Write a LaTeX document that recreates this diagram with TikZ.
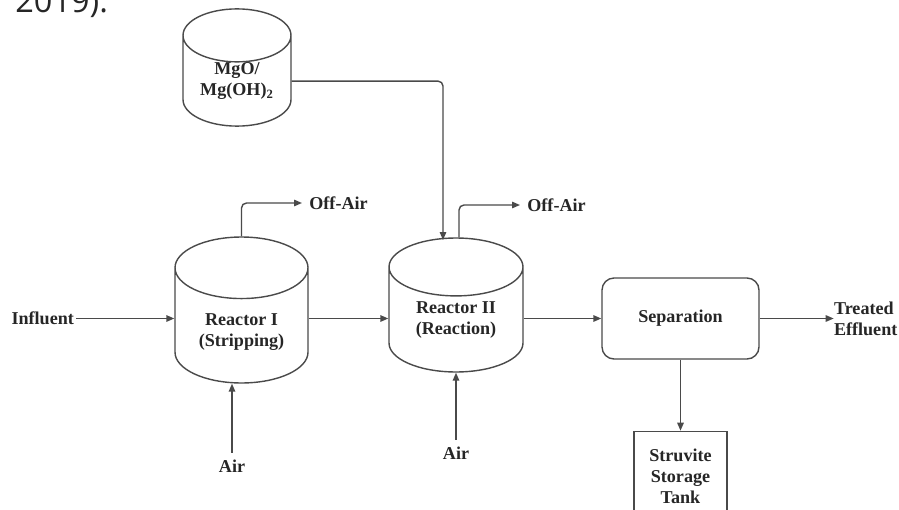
\documentclass[tikz,border=0pt]{standalone}
\usepackage{fontspec}
\setmainfont{Liberation Serif}
\newfontfamily\capfont{Open Sans}
\usepackage{tikz}
\usetikzlibrary{shapes.geometric, arrows.meta, positioning}

\definecolor{pipe}{HTML}{4A4A4A}
\definecolor{ink}{HTML}{262626}
\newcommand{\lblfont}{\fontsize{10.3}{12}\selectfont\bfseries}

\begin{document}
\begin{tikzpicture}[x=0.02cm, y=-0.02cm,
    tank/.style={cylinder, shape border rotate=90, aspect=0.72, draw=pipe, line width=0.8pt, text=ink, align=center, font=\lblfont, inner sep=0pt},
    unit/.style={rectangle, draw=pipe, line width=0.8pt, text=ink, align=center, font=\lblfont},
    tag/.style={text=ink, font=\lblfont, inner sep=1pt, align=left},
    flow/.style={draw=pipe, line width=0.8pt, -{Triangle[length=0.16cm, width=0.13cm]}}]
    \fill[white] (0,0) rectangle (899,510);
    \useasboundingbox (0,0) rectangle (899,510);
    \clip (0,0) rectangle (899,510);
    \node (yr) [anchor=base west, inner sep=0pt, font=\capfont\fontsize{18.5}{20}\selectfont, text=ink] at (15,13) {2019).};%cut caption
    \node (mgo) [tank, minimum width=2.16cm, minimum height=2.18cm, anchor=shape center] at (237,67.5) {MgO/\\Mg(OH)\textsubscript{2}};%dosing tank
    \node (r1) [tank, minimum width=2.66cm, minimum height=2.92cm, text height=0.91cm, anchor=shape center] at (241.5,310) {Reactor I\\(Stripping)};%stripping reactor
    \node (r2) [tank, minimum width=2.68cm, minimum height=2.68cm, anchor=shape center] at (456,305) {Reactor II\\(Reaction)};%reaction reactor
    \node (sep) [unit, rounded corners=0.24cm, minimum width=3.14cm, minimum height=1.62cm] at (680.5,318.5) {Separation};%separation unit
    \node (store) [unit, minimum width=1.86cm, minimum height=1.8cm, below=1.42cm of sep] {Struvite\\Storage\\Tank};%storage tank
    \node (infl) [tag, anchor=east] at (76,318.5) {Influent};
    \node (treat) [tag, inner sep=0pt, right=1.48cm of sep] {Treated\\Effluent};
    \node (air1) [tag, inner sep=4pt, below=1.38cm of r1, xshift=-0.19cm] {Air};
    \node (air2) [tag, inner sep=4pt, below=1.34cm of r2] {Air};
    \node (off1) [tag, inner sep=4pt, anchor=west] at (302,203) {Off-Air};
    \node (off2) [tag, inner sep=4pt, anchor=west] at (520,205) {Off-Air};
    \coordinate (r2in) at (443,240);%dosing inlet on reactor II
    \draw[flow] (infl) -- (infl -| r1.west);%influent to reactor I
    \draw[flow] (infl -| r1.east) -- (infl -| r2.west);%reactor I to reactor II
    \draw[flow] (infl -| r2.east) -- (infl -| sep.west);%reactor II to separation
    \draw[flow] (sep.east) -- (treat.west);%effluent out
    \draw[flow] (sep) -- (store);%struvite to storage
    \draw[flow] (air1) -- (air1 |- r1.south);%air into reactor I
    \draw[flow] (air2) -- (r2.south);%air into reactor II
    \draw[flow, rounded corners=0.1cm] (r1.north) |- (off1.west);%off-air I
    \draw[flow, rounded corners=0.1cm] ([xshift=0.06cm]r2.north) |- (off2.west);%off-air II
    \draw[flow, rounded corners=0.1cm] (mgo.east) -| (r2in);%MgO dosing
\end{tikzpicture}
\end{document}
